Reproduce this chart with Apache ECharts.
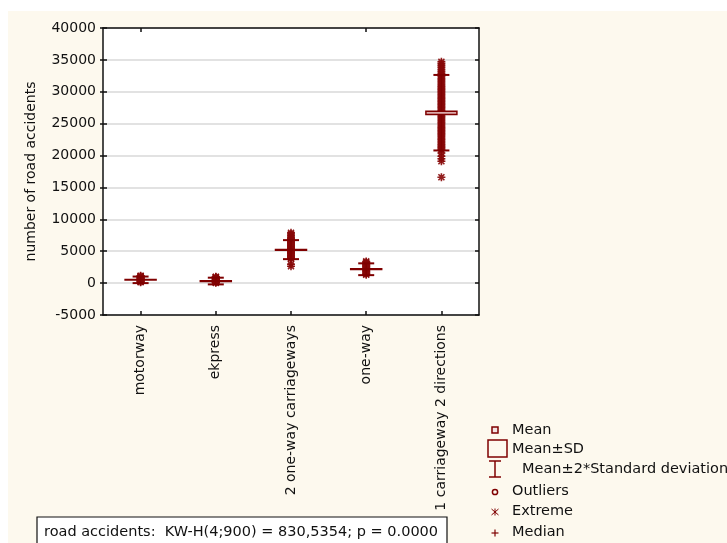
<!DOCTYPE html>
<html><head><meta charset="utf-8">
<script src="https://cdn.jsdelivr.net/npm/echarts@6/dist/echarts.min.js"></script>
<style>html,body{margin:0;padding:0;background:#fff}#c{width:727px;height:543px}</style>
</head><body><div id="c"></div>
<script>
// ---- data ----
const categories = ['motorway', 'ekpress', '2 one-way carriageways', 'one-way', '1 carriageway 2 directions'];
const yMin = -5000, yMax = 40000, yStep = 5000;
const means       = [520, 320, 5220, 2200, 26700];
const whiskerLow  = [0, -200, 3760, 1250, 20800];     // mean - 2*SD
const whiskerHigh = [1030, 850, 6740, 3100, 32640];   // mean + 2*SD
const boxLow      = [470, 270, 5160, 2150, 26450];
const boxHigh     = [570, 370, 5280, 2250, 26950];
const pointsMotorway = [130, 210, 300, 370, 450, 540, 610, 700, 770, 860, 940, 1010, 1090, 1150];
const pointsEkpress  = [40, 120, 190, 270, 350, 420, 500, 580, 650, 730, 810, 880, 960, 1000];
const pointsTwoWay   = [7900, 7700, 7450, 7200, 6950, 6820, 6640, 6500, 6330, 6200, 6040, 5900, 5760, 5590, 5450, 5310, 5150, 5010, 4860, 4700, 4560, 4390, 4250, 4110, 3950, 3800, 2950, 2650];
const pointsOneWay   = [3400, 3260, 3090, 2960, 2790, 2660, 2500, 2340, 2210, 2040, 1900, 1760, 1590, 1450, 1320];
const pointsOneCarriageway = [34700, 34420, 34100, 33800, 33500, 33200, 32900, 32640, 32400, 32130, 31870, 31620, 31380, 31150, 30880, 30650, 30420, 30180, 29950, 29700, 29480, 29230, 29000, 28770, 28540, 28300, 28060, 27830, 27600, 27370, 27120, 26900, 26680, 26430, 26200, 25980, 25740, 25500, 25270, 25050, 24800, 24560, 24340, 24100, 23870, 23630, 23400, 23180, 22940, 22700, 22480, 22250, 22010, 21780, 21550, 21320, 21080, 20850, 20400, 19900, 19500, 19100, 16600];
const pointGroups = [pointsMotorway, pointsEkpress, pointsTwoWay, pointsOneWay, pointsOneCarriageway];

// ---- chart ----
const MAROON = '#7f0000';
const FONT = '"DejaVu Sans", sans-serif';
const chart = echarts.init(document.getElementById('c'), null, {renderer: 'canvas'});

const scatterData = [];
pointGroups.forEach((g, i) => g.forEach(v => scatterData.push([i, v])));
const boxData = categories.map((_, i) => [i, means[i], whiskerLow[i], whiskerHigh[i], boxLow[i], boxHigh[i]]);

const txt = (text, x, y, size) => ({type: 'text', z: 10, style: {text, x, y, fill: '#111', fontSize: size || 14.5, fontFamily: FONT, verticalAlign: 'middle', align: 'left'}});
const ln = (x1, y1, x2, y2, w) => ({type: 'line', z: 10, shape: {x1, y1, x2, y2}, style: {stroke: MAROON, lineWidth: w || 1.5}});
const axisLineStyle = {show: true, onZero: false, lineStyle: {color: '#111', width: 1.5}};

const option = {
  backgroundColor: '#fff',
  animation: false,
  grid: {left: 103, top: 28, width: 376, height: 287, show: true, backgroundColor: '#fff', borderColor: '#111', borderWidth: 0},
  xAxis: [
    {type: 'category', data: categories, position: 'bottom', boundaryGap: true,
     axisLine: axisLineStyle,
     axisTick: {show: true, inside: true, length: 4, alignWithLabel: true, lineStyle: {color: '#111', width: 1.5}},
     axisLabel: {rotate: 90, interval: 0, margin: 10, color: '#111', fontSize: 14, fontFamily: FONT},
     splitLine: {show: false}},
    {type: 'category', data: categories, position: 'top', boundaryGap: true,
     axisLine: axisLineStyle,
     axisTick: {show: true, inside: true, length: 4, alignWithLabel: true, lineStyle: {color: '#111', width: 1.5}},
     axisLabel: {show: false}, splitLine: {show: false}}
  ],
  yAxis: [
    {type: 'value', min: yMin, max: yMax, interval: yStep, position: 'left',
     name: 'number of road accidents', nameLocation: 'middle', nameGap: 65,
     nameTextStyle: {color: '#111', fontSize: 14, fontFamily: FONT},
     axisLine: axisLineStyle,
     axisTick: {show: true, inside: false, length: 3, lineStyle: {color: '#111', width: 1.5}},
     axisLabel: {margin: 7, color: '#111', fontSize: 14, fontFamily: FONT, formatter: v => String(v)},
     splitLine: {show: true, lineStyle: {color: '#d9d9d9', width: 1.5}}},
    {type: 'value', min: yMin, max: yMax, interval: yStep, position: 'right',
     axisLine: axisLineStyle,
     axisTick: {show: true, inside: true, length: 4, lineStyle: {color: '#111', width: 1.5}},
     axisLabel: {show: false}, splitLine: {show: false}},
    {type: 'value', min: yMin, max: yMax, interval: yStep, position: 'left', offset: 0,
     axisLine: {show: false},
     axisTick: {show: true, inside: true, length: 4, lineStyle: {color: '#111', width: 1.5}},
     axisLabel: {show: false}, splitLine: {show: false}}
  ],
  series: [
    {type: 'scatter', xAxisIndex: 0, yAxisIndex: 0, data: scatterData, z: 2,
     symbol: 'path://M0,4L8,4M4,0L4,8M1,1L7,7M7,1L1,7', symbolSize: 8,
     itemStyle: {color: 'rgba(0,0,0,0)', borderColor: '#870808', borderWidth: 1.6, opacity: 0.9},
     emphasis: {disabled: true}, silent: true},
    {type: 'custom', xAxisIndex: 0, yAxisIndex: 0, data: boxData, z: 3, silent: true,
     encode: {x: 0, y: [1, 2, 3, 4, 5]},
     renderItem: function (params, api) {
       const c = api.value(0);
       const x = api.coord([c, api.value(1)])[0];
       const yLo = api.coord([c, api.value(2)])[1];
       const yHi = api.coord([c, api.value(3)])[1];
       const yBl = api.coord([c, api.value(4)])[1];
       const yBh = api.coord([c, api.value(5)])[1];
       return {type: 'group', children: [
         {type: 'line', shape: {x1: x, y1: yLo, x2: x, y2: yHi}, style: {stroke: MAROON, lineWidth: 1.5}},
         {type: 'line', shape: {x1: x - 8, y1: yLo, x2: x + 8, y2: yLo}, style: {stroke: MAROON, lineWidth: 2}},
         {type: 'line', shape: {x1: x - 8, y1: yHi, x2: x + 8, y2: yHi}, style: {stroke: MAROON, lineWidth: 2}},
         {type: 'rect', shape: {x: x - 15.5, y: yBh, width: 31, height: Math.max(yBl - yBh, 0.5)}, style: {fill: '#dcaaaa', stroke: MAROON, lineWidth: 1.5}}
       ]};
     }}
  ],
  graphic: {elements: [
    {type: 'rect', z: -100, shape: {x: 8, y: 11, width: 719, height: 532}, style: {fill: '#fdf9ee'}},
    // legend
    {type: 'rect', z: 10, shape: {x: 492, y: 427, width: 6, height: 6}, style: {fill: '#f4e4e4', stroke: MAROON, lineWidth: 1.5}},
    txt('Mean', 512, 430),
    {type: 'rect', z: 10, shape: {x: 488, y: 440, width: 19, height: 17}, style: {fill: 'rgba(0,0,0,0)', stroke: MAROON, lineWidth: 1.5}},
    txt('Mean\u00b1SD', 512, 449),
    ln(495, 461, 495, 477), ln(489, 461, 501, 461), ln(489, 477, 501, 477),
    txt('Mean\u00b12*Standard deviation', 522, 469),
    {type: 'circle', z: 10, shape: {cx: 495, cy: 492, r: 2.6}, style: {fill: 'rgba(0,0,0,0)', stroke: MAROON, lineWidth: 1.5}},
    txt('Outliers', 512, 491),
    ln(495, 508.5, 495, 515.5, 1), ln(491.5, 509, 498.5, 515, 1), ln(498.5, 509, 491.5, 515, 1),
    txt('Extreme', 512, 511),
    ln(491.5, 533, 498.5, 533, 1.2), ln(495, 529.5, 495, 536.5, 1.2),
    txt('Median', 512, 532),
    // test box
    {type: 'rect', z: 10, shape: {x: 37, y: 517, width: 410, height: 40}, style: {fill: '#fff', stroke: '#111', lineWidth: 1.2}},
    txt('road accidents:  KW-H(4;900) = 830,5354; p = 0.0000', 44, 532)
  ]}
};
chart.setOption(option);
</script></body></html>
